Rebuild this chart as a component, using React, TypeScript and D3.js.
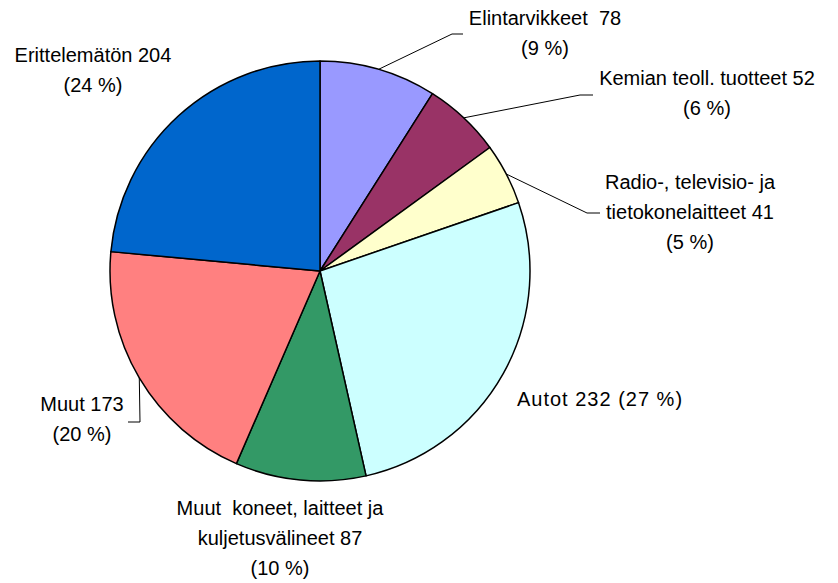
import React from "react";
import * as d3 from "d3";

const categories = [
  "Elintarvikkeet",
  "Kemian teoll. tuotteet",
  "Radio-, televisio- ja tietokonelaitteet",
  "Autot",
  "Muut koneet, laitteet ja kuljetusvälineet",
  "Muut",
  "Erittelemätön",
];
const values = [78, 52, 41, 232, 87, 173, 204];
const colors = ["#9999FF", "#993366", "#FFFFCC", "#CCFFFF", "#339966", "#FF8080", "#0066CC"];
const labelLines = [
  ["Elintarvikkeet  78", "(9 %)"],
  ["Kemian teoll. tuotteet 52", "(6 %)"],
  ["Radio-, televisio- ja", "tietokonelaitteet 41", "(5 %)"],
  ["Autot 232 (27 %)"],
  ["Muut  koneet, laitteet ja", "kuljetusvälineet 87", "(10 %)"],
  ["Muut 173", "(20 %)"],
  ["Erittelemätön 204", "(24 %)"],
];

// layout: label centre x, first baseline y, letter spacing, leader elbow points
const labelLayout = [
  { x: 545, y: 25, ls: 0, leader: [[452, 34], [463, 34]] },
  { x: 707, y: 85, ls: 0, leader: [[580, 95], [593, 95]] },
  { x: 690, y: 189, ls: 0, leader: [[587, 213], [600, 213]] },
  { x: 600, y: 406, ls: 1, leader: null },
  { x: 280, y: 515, ls: 0, leader: null },
  { x: 82, y: 411, ls: 0, leader: [[140, 422], [128, 422]] },
  { x: 93, y: 62, ls: 0, leader: null },
];

const CX = 320;
const CY = 271;
const R = 210;
const LINE_H = 30;

export default function App() {
  const pie = d3.pie<number>().sort(null).value((d) => d)(values);
  const arc = d3.arc<d3.PieArcDatum<number>>().innerRadius(0).outerRadius(R);

  return (
    <svg width={838} height={583} style={{ position: "absolute", left: 0, top: 0, background: "#fff" }}>
      <g transform={`translate(${CX},${CY})`}>
        {pie.map((p, i) => (
          <path key={categories[i]} d={arc(p) || ""} fill={colors[i]} stroke="#000" strokeWidth={1.5} strokeLinejoin="round" />
        ))}
      </g>
      {pie.map((p, i) => {
        const L = labelLayout[i];
        if (!L.leader) return null;
        const mid = (p.startAngle + p.endAngle) / 2;
        const sx = CX + R * Math.sin(mid);
        const sy = CY - R * Math.cos(mid);
        const pts = [[sx, sy], ...L.leader];
        return (
          <polyline
            key={"l" + i}
            points={pts.map((q) => q.join(",")).join(" ")}
            fill="none"
            stroke="#000"
            strokeWidth={1}
          />
        );
      })}
      {labelLines.map((lines, i) => (
        <text
          key={"t" + i}
          x={labelLayout[i].x}
          y={labelLayout[i].y}
          textAnchor="middle"
          fontFamily="'Liberation Sans', Arial, sans-serif"
          fontSize={20}
          letterSpacing={labelLayout[i].ls}
          fill="#000"
        >
          {lines.map((ln, j) => (
            <tspan key={j} x={labelLayout[i].x} y={labelLayout[i].y + j * LINE_H} style={{ whiteSpace: "pre" }}>
              {ln}
            </tspan>
          ))}
        </text>
      ))}
    </svg>
  );
}
